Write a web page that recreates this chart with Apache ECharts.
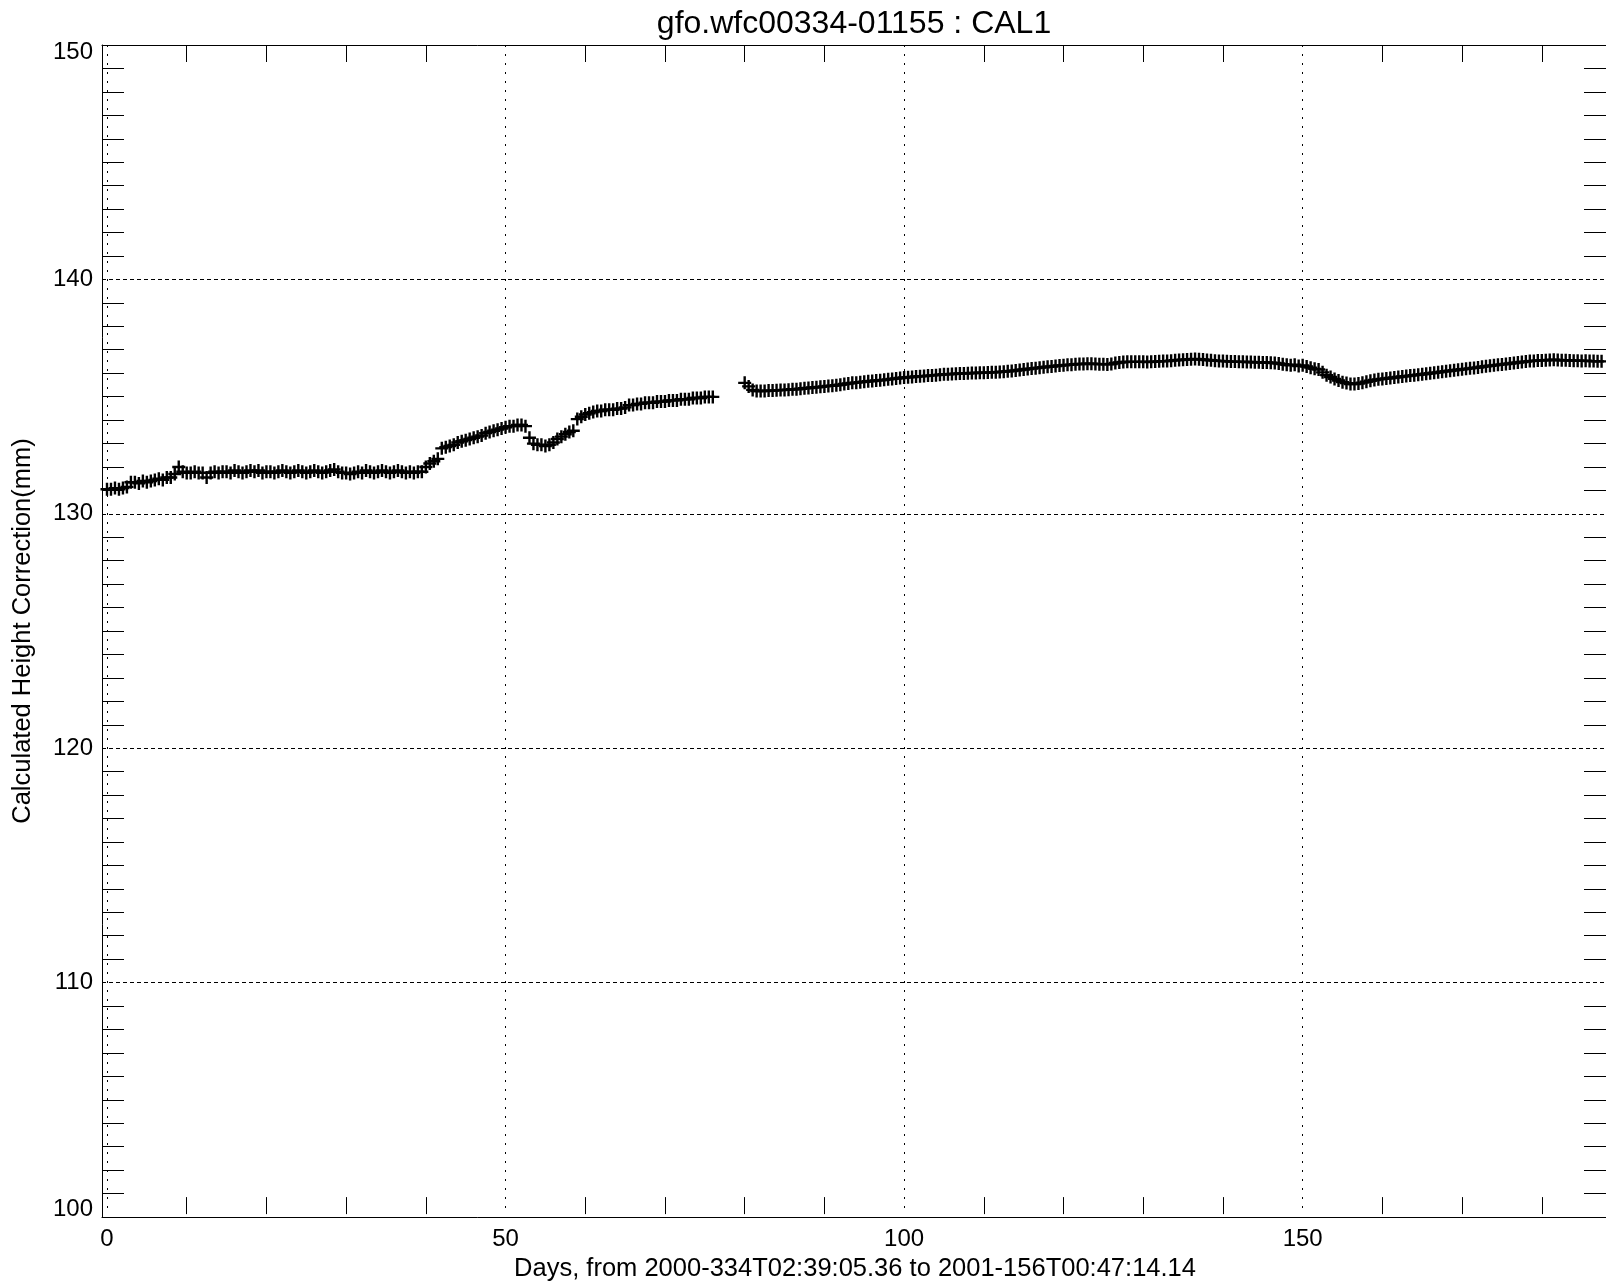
<!DOCTYPE html>
<html lang="en">
<head>
<meta charset="UTF-8">
<title>gfo.wfc00334-01155 : CAL1</title>
<style>
    html, body {
        margin: 0;
        padding: 0;
        background: #fff;
        overflow: hidden;
    }
    #chart {
        width: 1606px;
        height: 1287px;
    }
</style>
</head>
<body>
<div id="chart"></div>
<script src="https://cdn.jsdelivr.net/npm/echarts@6/dist/echarts.min.js"></script>
<script>
    var chartTitle = 'gfo.wfc00334-01155 : CAL1';
    var xTitle = 'Days, from 2000-334T02:39:05.36 to 2001-156T00:47:14.14';
    var yTitle = 'Calculated Height Correction(mm)';
    var xTickLabels = [0, 50, 100, 150];
    var yTickLabels = [100, 110, 120, 130, 140, 150];

    // samples come twice a day; two passes with a gap near day 77-80
    var sampleStep = 0.5;
    var firstStart = 0;
    var firstValues = [
        131.0, 131.0, 131.05, 131.0, 131.05, 131.1, 131.3, 131.3, 131.25, 131.35,
        131.3, 131.35, 131.4, 131.45, 131.4, 131.5, 131.5, 131.65, 131.95, 131.75,
        131.7, 131.7, 131.75, 131.7, 131.7, 131.5, 131.7, 131.75, 131.7, 131.75,
        131.75, 131.7, 131.8, 131.75, 131.7, 131.75, 131.8, 131.75, 131.8, 131.7,
        131.75, 131.75, 131.7, 131.75, 131.8, 131.75, 131.7, 131.75, 131.8, 131.75,
        131.7, 131.75, 131.8, 131.75, 131.7, 131.75, 131.8, 131.85, 131.75, 131.7,
        131.7, 131.65, 131.7, 131.75, 131.7, 131.8, 131.75, 131.7, 131.75, 131.8,
        131.75, 131.7, 131.75, 131.8, 131.75, 131.7, 131.75, 131.7, 131.75, 131.75,
        131.95, 132.1, 132.2, 132.3, 132.75, 132.8, 132.85, 132.9, 133.0, 133.05,
        133.1, 133.15, 133.2, 133.25, 133.3, 133.4, 133.45, 133.5, 133.55, 133.6,
        133.65, 133.7, 133.7, 133.75, 133.75, 133.7, 133.2, 132.95, 132.9, 132.9,
        132.85, 132.9, 133.0, 133.15, 133.25, 133.35, 133.45, 133.5, 134.0, 134.1,
        134.2, 134.25, 134.3, 134.35, 134.35, 134.4, 134.4, 134.4, 134.45, 134.45,
        134.5, 134.6, 134.6, 134.65, 134.65, 134.7, 134.7, 134.7, 134.75, 134.75,
        134.75, 134.8, 134.8, 134.8, 134.85, 134.85, 134.85, 134.9, 134.9, 134.9,
        134.95, 134.95, 134.95
    ];
    var secondStart = 80;
    var secondValues = [
        135.55, 135.4, 135.25, 135.2, 135.2, 135.2, 135.22, 135.22, 135.23, 135.24,
        135.25, 135.26, 135.28, 135.28, 135.3, 135.32, 135.33, 135.35, 135.36, 135.38,
        135.4, 135.42, 135.43, 135.45, 135.47, 135.5, 135.52, 135.55, 135.56, 135.58,
        135.6, 135.62, 135.63, 135.65, 135.66, 135.68, 135.7, 135.72, 135.74, 135.76,
        135.78, 135.79, 135.8, 135.82, 135.83, 135.84, 135.86, 135.87, 135.88, 135.9,
        135.92, 135.92, 135.93, 135.94, 135.95, 135.95, 135.96, 135.97, 135.97, 135.98,
        135.98, 135.99, 136.0, 136.0, 136.02, 136.03, 136.05, 136.06, 136.08, 136.1,
        136.12, 136.14, 136.16, 136.18, 136.2, 136.22, 136.24, 136.25, 136.27, 136.29,
        136.3, 136.32, 136.33, 136.35, 136.36, 136.36, 136.37, 136.37, 136.36, 136.35,
        136.35, 136.34, 136.36, 136.4, 136.42, 136.44, 136.45, 136.45, 136.45, 136.45,
        136.45, 136.44, 136.45, 136.46, 136.47, 136.48, 136.48, 136.5, 136.52, 136.53,
        136.54, 136.55, 136.56, 136.57, 136.56, 136.55, 136.53, 136.52, 136.5, 136.49,
        136.48, 136.47, 136.46, 136.46, 136.45, 136.45, 136.44, 136.44, 136.43, 136.43,
        136.42, 136.42, 136.41, 136.4, 136.38, 136.35, 136.32, 136.3, 136.33, 136.27,
        136.3, 136.25, 136.2, 136.15, 136.12, 136.0, 135.88, 135.8, 135.72, 135.65,
        135.58, 135.54, 135.5, 135.5, 135.52, 135.56, 135.6, 135.64, 135.67, 135.7,
        135.72, 135.74, 135.76, 135.78, 135.8, 135.82, 135.84, 135.86, 135.88, 135.9,
        135.92, 135.94, 135.96, 135.98, 136.0, 136.03, 136.05, 136.07, 136.09, 136.11,
        136.13, 136.15, 136.17, 136.19, 136.21, 136.24, 136.26, 136.28, 136.3, 136.32,
        136.34, 136.36, 136.38, 136.4, 136.42, 136.44, 136.46, 136.48, 136.49, 136.51,
        136.51, 136.52, 136.53, 136.54, 136.53, 136.52, 136.52, 136.51, 136.5, 136.5,
        136.49, 136.5, 136.48, 136.48, 136.47, 136.47
    ];

    var points = [];
    firstValues.forEach(function (v, i) {
        points.push([firstStart + i * sampleStep, v]);
    });
    secondValues.forEach(function (v, i) {
        points.push([secondStart + i * sampleStep, v]);
    });

    var fontName = "'Liberation Sans', Arial, Helvetica, sans-serif";
    var plusPath = 'path://M5.3,0 L7.7,0 L7.7,5.3 L13,5.3 L13,7.7 L7.7,7.7 L7.7,13 L5.3,13 L5.3,7.7 L0,7.7 L0,5.3 L5.3,5.3 Z';

    // ticks drawn inside the box only
    var noMajorTick = {show: true, inside: true, length: 0, lineStyle: {color: 'rgba(0,0,0,0)'}};

    var chart = echarts.init(document.getElementById('chart'));
    var option = {
        animation: false,
        backgroundColor: '#fff',
        title: {
            text: chartTitle,
            left: 854,
            top: 8,
            padding: 0,
            textAlign: 'center',
            textStyle: {
                color: '#000',
                fontFamily: fontName,
                fontWeight: 'normal',
                fontSize: 32
            }
        },
        grid: [
            // frame box, starts a little before day 0
            {left: 102, right: 0, top: 45, bottom: 70},
            // day axis and data
            {left: 107, right: 0, top: 45, bottom: 70}
        ],
        xAxis: [
            {
                gridIndex: 0, type: 'value', min: 0, max: 1, position: 'bottom',
                axisLine: {show: true, onZero: false, lineStyle: {color: '#000', width: 1}},
                axisTick: {show: false}, axisLabel: {show: false}, splitLine: {show: false}
            },
            {
                gridIndex: 0, type: 'value', min: 0, max: 1, position: 'top',
                axisLine: {show: true, onZero: false, lineStyle: {color: '#000', width: 1}},
                axisTick: {show: false}, axisLabel: {show: false}, splitLine: {show: false}
            },
            {
                gridIndex: 1, type: 'value', min: 0, max: 187.68, interval: 50, position: 'bottom',
                name: xTitle,
                nameLocation: 'middle',
                nameGap: 39,
                nameTextStyle: {color: '#000', fontFamily: fontName, fontSize: 25.5},
                axisLine: {show: false, onZero: false},
                axisTick: noMajorTick,
                minorTick: {show: true, splitNumber: 5, length: 17, lineStyle: {color: '#000', width: 1}},
                axisLabel: {
                    color: '#000', fontFamily: fontName, fontSize: 24, margin: 13,
                    formatter: function (v) {
                        return xTickLabels.indexOf(v) >= 0 ? String(v) : '';
                    }
                },
                splitLine: {
                    show: true, showMaxLine: false,
                    lineStyle: {color: '#000', width: 1, type: [2, 7]}
                }
            },
            {
                gridIndex: 1, type: 'value', min: 0, max: 187.68, interval: 50, position: 'top',
                axisLine: {show: false, onZero: false},
                axisTick: noMajorTick,
                minorTick: {show: true, splitNumber: 5, length: 17, lineStyle: {color: '#000', width: 1}},
                axisLabel: {show: false},
                splitLine: {show: false}
            }
        ],
        yAxis: [
            {
                // labels, name and dashed grid
                gridIndex: 0, type: 'value', min: 100, max: 150, interval: 10, position: 'left',
                name: yTitle,
                nameLocation: 'middle',
                nameGap: 66,
                nameTextStyle: {color: '#000', fontFamily: fontName, fontSize: 25.5},
                axisLine: {show: true, onZero: false, lineStyle: {color: '#000', width: 1}},
                axisTick: {show: false},
                minorTick: {show: false},
                axisLabel: {
                    margin: 9,
                    formatter: function (v) {
                        if (yTickLabels.indexOf(v) < 0) return '';
                        if (v === 150) return '{top|' + v + '}';
                        if (v === 100) return '{bot|' + v + '}';
                        return '{n|' + v + '}';
                    },
                    rich: {
                        n: {color: '#000', fontFamily: fontName, fontSize: 24},
                        top: {color: '#000', fontFamily: fontName, fontSize: 24, padding: [14, 0, 0, 0]},
                        bot: {color: '#000', fontFamily: fontName, fontSize: 24, padding: [0, 0, 16, 0]}
                    }
                },
                splitLine: {show: true, lineStyle: {color: '#000', width: 1, type: [4, 3]}}
            },
            {
                // left minor ticks
                gridIndex: 0, type: 'value', min: 100, max: 150, interval: 10, position: 'left',
                axisLine: {show: false, onZero: false},
                axisTick: noMajorTick,
                minorTick: {show: true, splitNumber: 10, length: 22, lineStyle: {color: '#000', width: 1}},
                axisLabel: {show: false},
                splitLine: {show: false}
            },
            {
                // right minor ticks, the box edge sits at the picture border
                gridIndex: 0, type: 'value', min: 100, max: 150, interval: 10, position: 'right',
                axisLine: {show: false, onZero: false},
                axisTick: noMajorTick,
                minorTick: {show: true, splitNumber: 10, length: 22, lineStyle: {color: '#000', width: 1}},
                axisLabel: {show: false},
                splitLine: {show: false}
            },
            {
                gridIndex: 1, type: 'value', min: 100, max: 150, show: false
            }
        ],
        series: [
            {
                name: 'CAL1',
                type: 'scatter',
                xAxisIndex: 2,
                yAxisIndex: 3,
                symbol: plusPath,
                symbolSize: 13,
                itemStyle: {color: '#000', opacity: 1},
                data: points
            }
        ]
    };
    chart.setOption(option);
</script>
</body>
</html>
